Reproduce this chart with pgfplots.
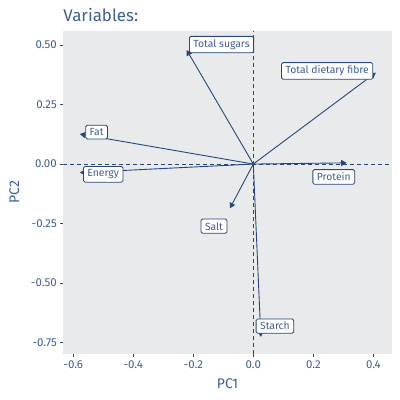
\documentclass[border=0pt]{standalone}
\usepackage{pgfplots}
\pgfplotsset{compat=1.18}
\usepackage{fontspec}
\setmainfont{Fira Sans}
\usetikzlibrary{arrows.meta}

\definecolor{panelbg}{RGB}{233,234,236}
\definecolor{inkblue}{RGB}{40,70,124}
\definecolor{txtblue}{RGB}{62,93,150}

\tikzset{
  lab/.style={draw=inkblue, fill=white, rounded corners=1.5bp, line width=0.8bp, text=txtblue, font=\fontsize{10.4}{12}\selectfont, inner xsep=4bp, inner ysep=3.2bp},
  vec/.style={inkblue, line width=0.9bp, -{Triangle[length=5.5bp,width=6bp]}},
}

\begin{document}
\begin{tikzpicture}[x=1bp,y=1bp]
\useasboundingbox (0,0) rectangle (400,400);
% title
\node[anchor=base west, text=txtblue, font=\fontsize{17}{20}\selectfont, inner sep=0pt] at (63.3,378.3) {Variables:};
\begin{axis}[
  at={(63.3bp,46bp)}, anchor=south west,
  scale only axis, width=328.4bp, height=323bp,
  xmin=-0.633, xmax=0.461, ymin=-0.798, ymax=0.559,
  axis background/.style={fill=panelbg},
  axis line style={draw=none},
  xtick={-0.6,-0.4,-0.2,0,0.2,0.4},
  ytick={-0.75,-0.5,-0.25,0,0.25,0.5},
  xticklabels={-0.6,-0.4,-0.2,0.0,0.2,0.4},
  yticklabels={-0.75,-0.50,-0.25,0.00,0.25,0.50},
  tick align=outside, major tick length=3bp,
  xtick pos=bottom, ytick pos=left,
  tick style={color=inkblue, line width=0.7bp},
  ticklabel style={font=\fontsize{11.5}{13}\selectfont, text=txtblue},
  xlabel={PC1}, ylabel={PC2},
  every axis x label/.style={at={(axis description cs:0.5,0)}, anchor=base, yshift=-34bp, font=\fontsize{14}{16}\selectfont, text=txtblue},
  every axis y label/.style={at={(axis description cs:0,0.5)}, anchor=base, rotate=90, yshift=44.3bp, font=\fontsize{14}{16}\selectfont, text=txtblue},
]
% reference lines through the origin
\addplot[inkblue, line width=0.8bp, dash pattern=on 4bp off 3bp] coordinates {(0,-0.798) (0,0.559)};
\addplot[inkblue, line width=0.8bp, dash pattern=on 4bp off 3bp] coordinates {(-0.633,0) (0.461,0)};
% loading vectors
\addplot[vec] coordinates {(0,0) (-0.222,0.479)};
\addplot[vec] coordinates {(0,0) (0.408,0.384)};
\addplot[vec] coordinates {(0,0) (-0.578,0.126)};
\addplot[vec] coordinates {(0,0) (-0.578,-0.036)};
\addplot[vec] coordinates {(0,0) (0.311,0.005)};
\addplot[vec] coordinates {(0,0) (-0.078,-0.186)};
\addplot[vec] coordinates {(0,0) (0.025,-0.726)};
% variable labels
\node[lab] at (axis cs:-0.106,0.502) {Total sugars};
\node[lab] at (axis cs:0.246,0.391) {Total dietary fibre};
\node[lab] at (axis cs:-0.522,0.134) {Fat};
\node[lab] at (axis cs:-0.500,-0.043) {Energy};
\node[lab] at (axis cs:0.268,-0.054) {Protein};
\node[lab] at (axis cs:-0.131,-0.261) {Salt};
\node[lab] at (axis cs:0.072,-0.681) {Starch};
\end{axis}
\end{tikzpicture}
\end{document}
